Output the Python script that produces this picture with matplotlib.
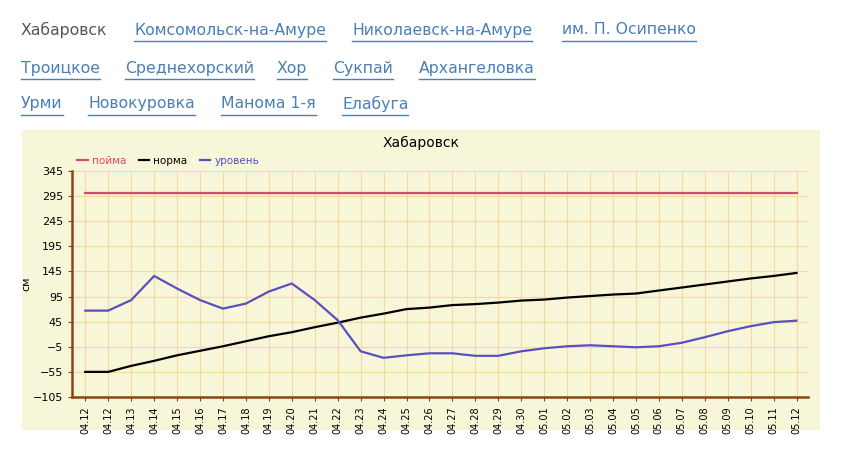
import matplotlib
matplotlib.use("Agg")
import matplotlib.pyplot as plt
from matplotlib.patches import Rectangle

dates = ["04.12","04.12","04.13","04.14","04.15","04.16","04.17","04.18","04.19","04.20","04.21",
         "04.22","04.23","04.24","04.25","04.26","04.27","04.28","04.29","04.30","05.01","05.02",
         "05.03","05.04","05.05","05.06","05.07","05.08","05.09","05.10","05.11","05.12"]
level = [67,67,88,136,111,88,71,81,105,121,88,48,-14,-27,-22,-18,-18,-23,-23,-14,-8,-4,-2,-4,-6,-4,3,14,26,36,44,47]
norm = [-55,-55,-43,-33,-22,-13,-4,6,16,24,34,43,53,61,70,73,78,80,83,87,89,93,96,99,101,107,113,119,125,131,136,142]
flood = [302]*len(dates)
yticks = [-105,-55,-5,45,95,145,195,245,295,345]
nav_rows = [["Хабаровск","Комсомольск-на-Амуре","Николаевск-на-Амуре","им. П. Осипенко"],
            ["Троицкое","Среднехорский","Хор","Сукпай","Архангеловка"],
            ["Урми","Новокуровка","Манома 1-я","Елабуга"]]

W, H = 841, 450
fig = plt.figure(figsize=(W/100, H/100), dpi=100)
fig.patch.set_facecolor("white")

row_y = [30, 68, 104]
xstarts = [[21,134,352,562],[21,125,277,333,419],[21,88,221,342]]
for r, row in enumerate(nav_rows):
    for i, name in enumerate(row):
        x0 = xstarts[r][i]
        col = "#555555" if (r == 0 and i == 0) else "#4a7fb8"
        t = fig.text(x0/W, 1-row_y[r]/H, name, fontsize=11.3, color=col,
                     va="center", ha="left", family="DejaVu Sans")
        if not (r == 0 and i == 0):
            fig.canvas.draw()
            bb = t.get_window_extent()
            fig.add_artist(plt.Line2D([bb.x0/W, bb.x1/W], [1-(row_y[r]+11)/H]*2,
                                      color=col, lw=1, transform=fig.transFigure))

fig.add_artist(Rectangle((22/W, 1-430/H), (820-22)/W, 300/H, transform=fig.transFigure,
                         facecolor="#f8f6d9", edgecolor="none", zorder=0))

ax = fig.add_axes([72/W, 1-397/H, (808-72)/W, (397-171)/H])
ax.set_facecolor("#f8f6d9")
x = list(range(len(dates)))
ax.plot(x, flood, color="#d9486e", lw=1.6, label="пойма")
ax.plot(x, norm, color="black", lw=1.6, label="норма")
ax.plot(x, level, color="#5a4fc0", lw=1.6, label="уровень")
ax.set_xlim(-0.58, len(dates)-1+0.5)
ax.set_ylim(-105, 345)
ax.set_yticks(yticks)
ax.set_xticks(x)
ax.set_xticklabels(dates, rotation=90, fontsize=7)
ax.tick_params(axis="y", labelsize=8, length=3, color="#8b4513")
ax.tick_params(axis="x", length=3, color="#8b4513")
ax.grid(True, color="#f5d9a0", lw=0.8)
ax.set_axisbelow(True)
for s in ["top","right"]:
    ax.spines[s].set_visible(False)
for s in ["left","bottom"]:
    ax.spines[s].set_color("#8b4513")
    ax.spines[s].set_linewidth(1.8)
ax.set_ylabel("см", fontsize=8)
ax.yaxis.set_label_coords(-0.055, 0.5)
fig.text(421/W, 1-143/H, "Хабаровск", fontsize=10, ha="center", va="center")
leg = ax.legend(loc="lower left", bbox_to_anchor=(0.0, 1.0), ncol=3, frameon=False,
                fontsize=7.5, handlelength=1.0, columnspacing=1.2, borderaxespad=0.1,
                handletextpad=0.4)
for t, c in zip(leg.get_texts(), ["#d9486e","black","#5a4fc0"]):
    t.set_color(c)
fig.savefig("out.png", dpi=100)
